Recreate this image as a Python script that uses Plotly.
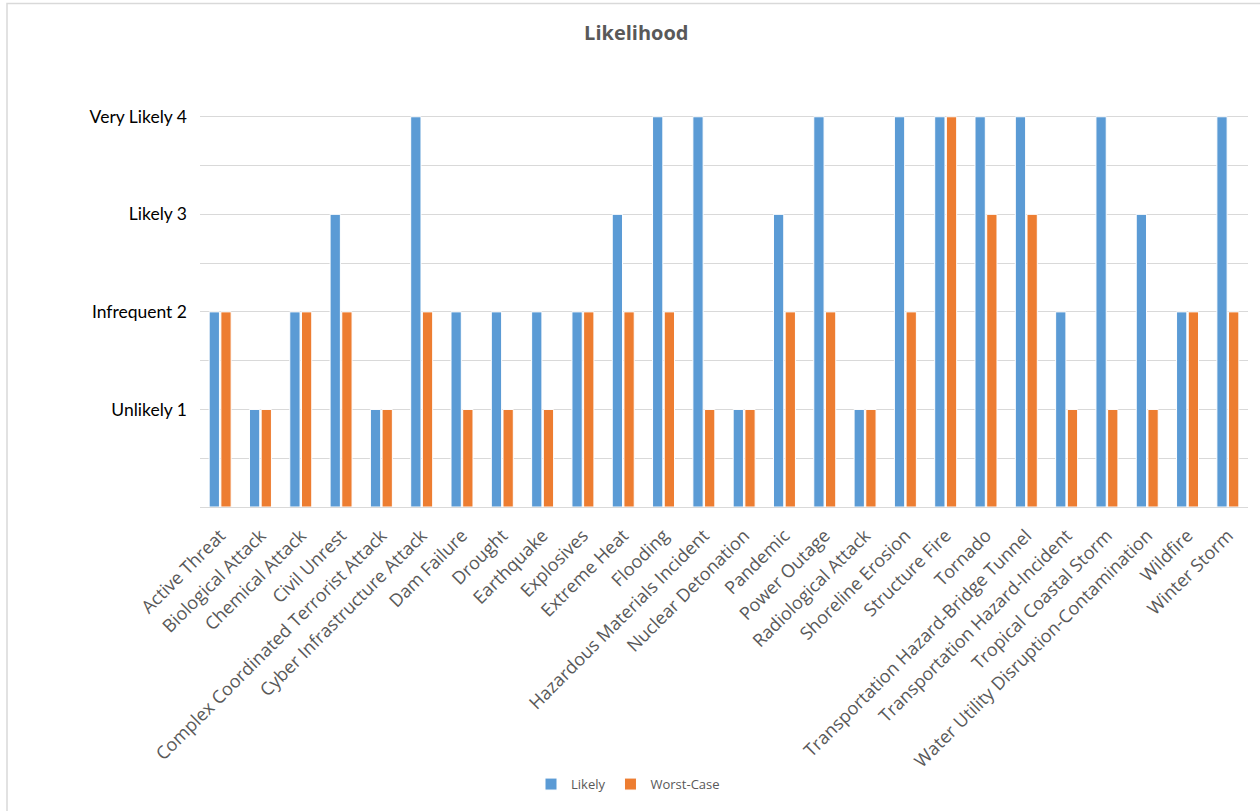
import plotly.graph_objects as go

categories = [
    "Active Threat", "Biological Attack", "Chemical Attack", "Civil Unrest",
    "Complex Coordinated Terrorist Attack", "Cyber Infrastructure Attack",
    "Dam Failure", "Drought", "Earthquake", "Explosives", "Extreme Heat",
    "Flooding", "Hazardous Materials Incident", "Nuclear Detonation",
    "Pandemic", "Power Outage", "Radiological Attack", "Shoreline Erosion",
    "Structure Fire", "Tornado", "Transportation Hazard-Bridge Tunnel",
    "Transportation Hazard-Incident", "Tropical Coastal Storm",
    "Water Utility Disruption-Contamination", "Wildfire", "Winter Storm",
]
likely = [2, 1, 2, 3, 1, 4, 2, 2, 2, 2, 3, 4, 4, 1, 3, 4, 1, 4, 4, 4, 4, 2, 4, 3, 2, 4]
worst_case = [2, 1, 2, 2, 1, 2, 1, 1, 1, 2, 2, 2, 1, 1, 2, 2, 1, 2, 4, 3, 3, 1, 1, 1, 2, 2]
y_tick_vals = [1, 2, 3, 4]
y_tick_text = ["Unlikely 1", "Infrequent 2", "Likely 3", "Very Likely 4"]

W, H = 1260, 811
L, R, T, B = 200, 12, 68, 301
pw, ph = W - L - R, H - T - B

fig = go.Figure()
fig.add_trace(go.Bar(x=categories, y=likely, name="Likely",
                     marker=dict(color="#5B9BD5", line=dict(color="white", width=1))))
fig.add_trace(go.Bar(x=categories, y=worst_case, name="Worst-Case",
                     marker=dict(color="#ED7D31", line=dict(color="white", width=1))))

grid = "#D9D9D9"
fig.update_layout(
    width=W, height=H,
    margin=dict(l=L, r=R, t=T, b=B),
    paper_bgcolor="white", plot_bgcolor="white",
    barmode="group", bargap=0.42, bargroupgap=0.12,
    font=dict(family="Open Sans", color="#595959"),
    title=dict(text="<b>Likelihood</b>", x=0.505, xanchor="center",
               y=1 - 33 / H, yanchor="middle",
               font=dict(size=20, color="#595959", family="Open Sans")),
    legend=dict(orientation="h", x=(628 - L) / pw, xanchor="center",
                y=(H - B - 789) / ph, yanchor="middle",
                font=dict(size=13, color="#595959"),
                itemwidth=30, traceorder="normal"),
    xaxis=dict(tickangle=-45, tickfont=dict(size=18, color="#595959"),
               showline=True, linecolor=grid, linewidth=1,
               showgrid=False, ticks="", automargin=False,
               ticklabelstandoff=10),
    yaxis=dict(range=[0, 4.5], tickvals=y_tick_vals, ticktext=y_tick_text,
               tickfont=dict(size=17.5, color="black", family="Lato"),
               showgrid=True, gridcolor=grid, gridwidth=1,
               zeroline=False, showline=False, ticks="",
               ticklabelstandoff=12,
               minor=dict(dtick=0.5, tick0=0, showgrid=True, gridcolor=grid, gridwidth=1),
               automargin=False),
    shapes=[dict(type="rect", xref="paper", yref="paper",
                 x0=(7 - L) / pw, x1=(W + 20 - L) / pw,
                 y0=(H - B - (H + 20)) / ph, y1=(H - B - 3) / ph,
                 line=dict(color="#D9D9D9", width=1.5), fillcolor="rgba(0,0,0,0)",
                 layer="below")],
)

fig.write_html("out.html")
